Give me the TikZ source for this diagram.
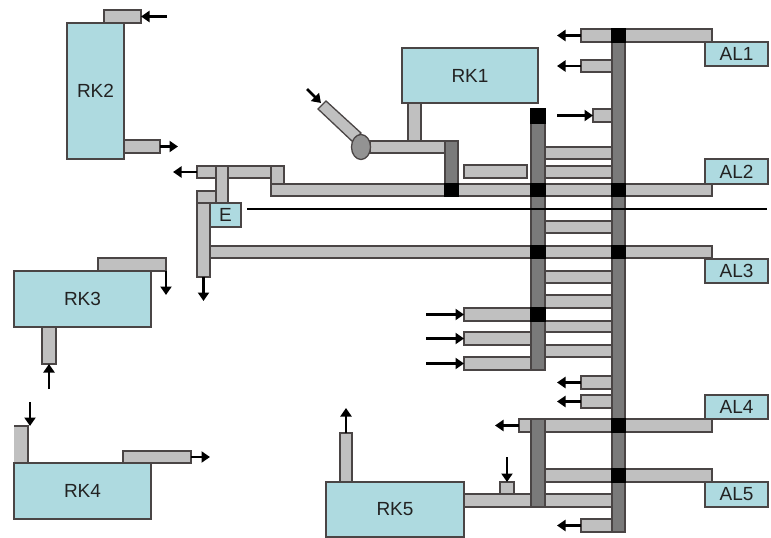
\documentclass[tikz,border=0pt]{standalone}
\usepackage{fontspec}
\setmainfont{Liberation Sans}
\usetikzlibrary{arrows.meta,shapes.geometric}
\definecolor{tealbox}{HTML}{AEDAE0}
\definecolor{pipegray}{HTML}{C0C0C0}
\definecolor{darkpipe}{HTML}{7A7A7A}
\definecolor{edgegray}{HTML}{4A4545}
\definecolor{labelgray}{HTML}{222222}
\tikzset{
  blockbase/.style={draw=edgegray,line width=1.3pt,inner sep=0pt,outer sep=0pt,rectangle,anchor=north west},
  pipe/.style={blockbase,fill=pipegray},
  spine/.style={blockbase,fill=darkpipe},
  joint/.style={blockbase,fill=black,draw=black},
  unit/.style={blockbase,fill=tealbox,text=labelgray,font=\fontsize{19}{21}\selectfont},
  flow/.style={line width=2.8pt,black,-{Triangle[length=8.5pt,width=11pt]}},
  shaft/.style={line width=2.4pt,black}
}
\newcommand{\blk}[7][]{%
  \pgfmathsetmacro{\blkw}{#5-#3}\pgfmathsetmacro{\blkh}{#6-#4}%
  \node[#1,minimum width=\blkw pt,minimum height=\blkh pt] (#2) at (#3,#4) {#7};}
\begin{document}
\begin{tikzpicture}[x=1pt,y=-1pt]
\useasboundingbox (0,0) rectangle (771,538);
\fill[white] (0,0) rectangle (771,538);
% left bus group
\blk[pipe]{upa}{197}{166}{272}{178}{}
\blk[pipe]{upb}{271}{166}{284}{185}{}
\blk[pipe]{main}{271}{184}{712}{196}{}
\blk[pipe]{lowbar}{209}{246}{712}{258}{}
\blk[pipe]{lefth}{197}{191}{217}{203}{}
\blk[pipe]{leftv}{197}{203}{210}{277}{}
\blk[pipe]{upv}{216}{166}{228}{203}{}
% RK1 feed
\blk[pipe]{feed}{370}{141}{446}{153}{}
\blk[pipe]{rkstub}{408}{103}{421}{141}{}
\draw[line width=1.3pt,draw=edgegray,fill=pipegray] (326,101) coordinate (sa) -- (318,109) -- (353,142) -- (361,133) -- cycle;
\node[ellipse,draw=edgegray,line width=1.3pt,fill=gray!85,minimum width=19pt,minimum height=25pt,inner sep=0pt] (valve) at (361,147) {};
\blk[pipe]{loose}{464}{165}{527}{178}{}
% rungs
\blk[pipe]{r1}{545}{147}{612}{159}{}
\blk[pipe]{r2}{545}{166}{612}{178}{}
\blk[pipe]{r3}{545}{221}{612}{233}{}
\blk[pipe]{r4}{545}{271}{612}{283}{}
\blk[pipe]{r5}{545}{295}{612}{308}{}
\blk[pipe]{r6}{545}{321}{612}{332}{}
\blk[pipe]{r7}{545}{345}{612}{357}{}
% right side branches
\blk[pipe]{top}{581}{29}{712}{42}{}
\blk[pipe]{s2}{581}{60}{612}{72}{}
\blk[pipe]{s3}{593}{109}{612}{122}{}
\blk[pipe]{s4}{581}{376}{612}{389}{}
\blk[pipe]{s5}{581}{395}{612}{408}{}
\blk[pipe]{s6}{581}{519}{612}{532}{}
\blk[pipe]{i1}{464}{308}{531}{321}{}
\blk[pipe]{i2}{464}{332}{531}{345}{}
\blk[pipe]{i3}{464}{357}{531}{370}{}
\blk[pipe]{al4bar}{519}{419}{712}{432}{}
\blk[pipe]{al5bar}{545}{469}{712}{482}{}
\blk[pipe]{rk5bar}{464}{494}{612}{507}{}
\blk[pipe]{rk5top}{500}{482}{514}{494}{}
\blk[pipe]{rk5stub}{340}{433}{352}{482}{}
% spines
\blk[spine]{sp0}{445}{141}{458}{196}{}
\blk[spine]{sp1}{531}{109}{545}{370}{}
\blk[spine]{sp2}{531}{419}{545}{507}{}
\blk[spine]{sp3}{612}{29}{625}{532}{}
% joints
\blk[joint]{j0}{445}{184}{458}{196}{}
\blk[joint]{j1}{531}{109}{545}{123}{}
\blk[joint]{j2}{531}{184}{545}{196}{}
\blk[joint]{j3}{612}{184}{625}{196}{}
\blk[joint]{j4}{531}{246}{545}{258}{}
\blk[joint]{j5}{612}{246}{625}{258}{}
\blk[joint]{j6}{531}{308}{545}{321}{}
\blk[joint]{j7}{612}{29}{625}{42}{}
\blk[joint]{j8}{612}{419}{625}{432}{}
\blk[joint]{j9}{612}{469}{625}{482}{}
% RK stubs
\blk[pipe]{k2t}{104}{10}{141}{23}{}
\blk[pipe]{k2b}{124}{140}{160}{153}{}
\blk[pipe]{k3t}{98}{258}{166}{271}{}
\blk[pipe]{k3b}{42}{327}{56}{364}{}
\blk[pipe,draw=none]{k4l}{14}{426}{28}{463}{}
\draw[line width=1.3pt,draw=edgegray] (k4l.north west) -- (k4l.north east) -- (k4l.south east);
\blk[pipe]{k4r}{123}{451}{191}{463}{}
% units
\blk[unit]{RK1}{402}{48}{538}{103}{RK1}
\blk[unit]{RK2}{67}{23}{124}{159}{RK2}
\blk[unit]{RK3}{14}{271}{151}{327}{RK3}
\blk[unit]{RK4}{14}{463}{151}{519}{RK4}
\blk[unit]{RK5}{326}{482}{464}{537}{RK5}
\blk[unit]{E}{210}{203}{241}{227}{E}
\blk[unit]{AL1}{705}{42}{768}{66}{AL1}
\blk[unit]{AL2}{705}{159}{768}{184}{AL2}
\blk[unit]{AL3}{705}{259}{768}{283}{AL3}
\blk[unit]{AL4}{705}{395}{768}{419}{AL4}
\blk[unit]{AL5}{705}{482}{768}{507}{AL5}
% shaft
\coordinate (shaftL) at (247,209);
\coordinate (shaftR) at (767,209);
\draw[shaft] (shaftL) -- (shaftR);
% arrows
\draw[flow] (upa.west) -- ++(-24,0);
\draw[flow] (leftv.south) -- ++(0,24);
\draw[flow] ([shift={(-19,-12)}]sa) -- ([shift={(-5,2)}]sa);
\draw[flow] (top.west) -- ++(-24,0);
\draw[flow] (s2.west) -- ++(-24,0);
\draw[flow] ([xshift=-36pt]s3.west) -- (s3.west);
\draw[flow] ([xshift=-38pt]i1.west) -- (i1.west);
\draw[flow] ([xshift=-38pt]i2.west) -- (i2.west);
\draw[flow] ([xshift=-38pt]i3.west) -- (i3.west);
\draw[flow] (s4.west) -- ++(-24,0);
\draw[flow] (s5.west) -- ++(-24,0);
\draw[flow] (s6.west) -- ++(-24,0);
\draw[flow] (al4bar.west) -- ++(-24,0);
\draw[flow] ([yshift=25pt]rk5top.north) -- (rk5top.north);
\draw[flow] (rk5stub.north) -- ++(0,-25);
\draw[flow] ([xshift=26pt]k2t.east) -- (k2t.east);
\draw[flow] (k2b.east) -- ++(18,0);
\draw[flow] (k3t.south east) -- ++(0,24);
\draw[flow] ([yshift=-25pt]k3b.south) -- (k3b.south);
\draw[flow] ([xshift=2pt,yshift=24pt]k4l.north east) -- ([xshift=2pt]k4l.north east);
\draw[flow] (k4r.east) -- ++(19,0);
\end{tikzpicture}
\end{document}
